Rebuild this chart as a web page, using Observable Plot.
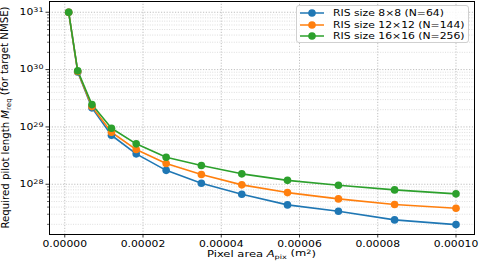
<!DOCTYPE html>
<html><head><meta charset="utf-8">
<script src="https://cdn.jsdelivr.net/npm/d3@7"></script>
<script src="https://cdn.jsdelivr.net/npm/@observablehq/plot@0.6"></script>
<style>
body{margin:0;background:#fff;}
#wrap{position:relative;width:479px;height:264px;font-family:"DejaVu Sans",sans-serif;}
#legend{position:absolute;left:296px;top:5px;width:171px;height:36px;border:1px solid #d0d0d0;border-radius:3px;background:rgba(255,255,255,0.85);font-size:9px;color:#000;}
#legend .row{position:absolute;left:0;height:11px;display:flex;align-items:center;}
#legend svg{margin-left:3px;margin-right:9px;}
#legend span{display:inline-block;transform:scaleX(1.2);transform-origin:left center;white-space:nowrap;}
</style>
</head><body><div id="wrap"><div id="legend"></div></div>
<script>
// ---- data ----
const pixelArea = [1.0e-6, 3.31e-6, 6.95e-6, 1.194e-5, 1.826e-5, 2.592e-5, 3.492e-5, 4.525e-5, 5.693e-5, 6.995e-5, 8.43e-5, 1.0e-4];
const seriesNames = ["RIS size 8×8 (N=64)", "RIS size 12×12 (N=144)", "RIS size 16×16 (N=256)"];
const seriesColors = ["#1f77b4", "#ff7f0e", "#2ca02c"];
const pilot8 = [1e31, 9.1e29, 2.15e29, 7.16e28, 3.39e28, 1.75e28, 1.04e28, 6.69e27, 4.37e27, 3.38e27, 2.39e27, 1.98e27];
const pilot12 = [1e31, 9.25e29, 2.26e29, 8.07e28, 4.03e28, 2.30e28, 1.48e28, 9.76e27, 7.16e27, 5.56e27, 4.43e27, 3.81e27];
const pilot16 = [1e31, 9.5e29, 2.45e29, 9.5e28, 5.07e28, 2.96e28, 2.12e28, 1.52e28, 1.17e28, 9.6e27, 7.98e27, 6.8e27];
const xTicks = [0, 2e-5, 4e-5, 6e-5, 8e-5, 1e-4];
const yMajorTicks = [1e28, 1e29, 1e30, 1e31];
const yDecades = [27, 28, 29, 30, 31];

const allSeries = [pilot8, pilot12, pilot16];
const rows = [];
allSeries.forEach((vals, i) => vals.forEach((v, j) => rows.push({x: pixelArea[j], y: v, s: seriesNames[i]})));
const yMinorTicks = [];
yDecades.forEach(d => { for (let k = 2; k <= 9; k++) yMinorTicks.push(k * Math.pow(10, d)); });

const font = '"DejaVu Sans", sans-serif';
const chart = Plot.plot({
  width: 479, height: 264,
  marginLeft: 49, marginRight: 5, marginTop: 1, marginBottom: 30,
  style: {fontFamily: font, fontSize: "8.5px", background: "white", color: "black"},
  x: {domain: [-3.9e-6, 1.0473e-4]},
  y: {type: "log", domain: [1.33e27, 1.54e31]},
  color: {domain: seriesNames, range: seriesColors},
  marks: [
    Plot.gridY(yMinorTicks, {stroke: "#c8c8c8", strokeOpacity: 1, strokeWidth: 0.6, strokeDasharray: "1,1.4"}),
    Plot.gridY(yMajorTicks, {stroke: "#b0b0b0", strokeOpacity: 1, strokeWidth: 0.8, strokeDasharray: "1.2,1.6"}),
    Plot.gridX(xTicks, {stroke: "#b0b0b0", strokeOpacity: 1, strokeWidth: 0.8, strokeDasharray: "1.2,1.6"}),
    Plot.axisY(yMinorTicks, {tickSize: 2, tickFormat: () => "", label: null, stroke: "black", strokeWidth: 0.6}),
    Plot.axisY(yMajorTicks, {tickSize: 3.5, tickPadding: 2.5, tickFormat: d => String(Math.round(Math.log10(d))), label: null, stroke: "black", strokeWidth: 0.8, fontSize: 8.5}),
    Plot.axisX(xTicks, {tickSize: 3.5, tickPadding: 3, tickFormat: d3.format(".5f"), label: null, stroke: "black", strokeWidth: 0.8, fontSize: 8.5}),
    Plot.line(rows, {x: "x", y: "y", stroke: "s", z: "s", strokeWidth: 1.6}),
    Plot.dot(rows, {x: "x", y: "y", fill: "s", r: 3.8, stroke: "none"}),
    Plot.frame({stroke: "black", strokeWidth: 1})
  ]
});
document.getElementById("wrap").prepend(chart);

const svg = d3.select(chart);
function stretch(node, s) {
  const tr = node.getAttribute("transform");
  if (tr) {
    node.setAttribute("transform", tr + ` scale(${s},1)`);
  } else {
    const x = +(node.getAttribute("x") || 0), y = +(node.getAttribute("y") || 0);
    node.removeAttribute("x"); node.removeAttribute("y");
    node.setAttribute("transform", `translate(${x},${y}) scale(${s},1)`);
  }
}
// y tick labels as 10^n with superscript
svg.selectAll('g[aria-label="y-axis tick label"] text').each(function() {
  const t = d3.select(this);
  const e = t.text();
  if (!e) return;
  t.text("");
  t.append("tspan").text("10");
  t.append("tspan").attr("dy", "-0.45em").attr("font-size", "6.3px").text(e);
  stretch(this, 1.27);
});
svg.selectAll('g[aria-label="x-axis tick label"] text').each(function() { stretch(this, 1.27); });

// axis titles
const yl = svg.append("text")
  .attr("transform", "translate(8.5,117.5) rotate(-90)")
  .attr("text-anchor", "middle").attr("font-size", "10.2px").attr("font-family", font).attr("fill", "black");
yl.append("tspan").text("Required pilot length ");
yl.append("tspan").attr("font-style", "italic").text("M");
yl.append("tspan").attr("font-size", "7px").attr("dy", "0.3em").text("req");
yl.append("tspan").attr("dy", "-0.3em").text(" (for target NMSE)");

const xl = svg.append("text")
  .attr("transform", "translate(261.5,257) scale(1.36,1)")
  .attr("text-anchor", "middle").attr("font-size", "8.5px").attr("font-family", font).attr("fill", "black");
xl.append("tspan").text("Pixel area ");
xl.append("tspan").attr("font-style", "italic").text("A");
xl.append("tspan").attr("font-size", "6px").attr("dy", "0.3em").text("pix");
xl.append("tspan").attr("dy", "-0.3em").text(" (m");
xl.append("tspan").attr("font-size", "6px").attr("dy", "-0.45em").text("2");
xl.append("tspan").attr("dy", "0.45em").text(")");

// legend
const legend = document.getElementById("legend");
seriesNames.forEach((name, i) => {
  const row = document.createElement("div");
  row.className = "row";
  row.style.top = (1.5 + i * 11.5) + "px";
  row.innerHTML = `<svg width="24" height="10"><line x1="0" x2="24" y1="5" y2="5" stroke="${seriesColors[i]}" stroke-width="1.5"/><circle cx="12" cy="5" r="3.8" fill="${seriesColors[i]}"/></svg><span>${name}</span>`;
  legend.appendChild(row);
});
</script>
</body></html>
